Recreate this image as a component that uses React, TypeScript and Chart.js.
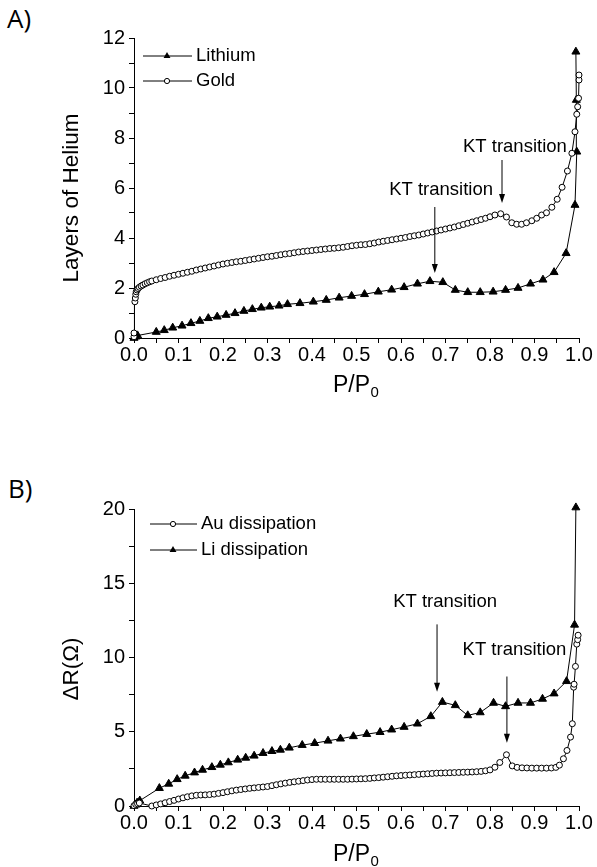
import React, { useEffect, useRef } from "react";
import { Chart, registerables } from "chart.js";
Chart.register(...registerables);

const FONT = "'Liberation Sans', Arial, Helvetica, sans-serif";

// ---------- Panel A data ----------
const lithiumX = [0, 0.004, 0.008, 0.05, 0.068, 0.087, 0.108, 0.128, 0.148, 0.167, 0.187, 0.207, 0.227, 0.247, 0.266, 0.286, 0.305, 0.326, 0.345, 0.373, 0.403, 0.432, 0.461, 0.489, 0.518, 0.549, 0.579, 0.607, 0.637, 0.665, 0.694, 0.722, 0.75, 0.778, 0.807, 0.835, 0.863, 0.891, 0.919, 0.944, 0.971, 0.991, 0.995, 0.994, 0.993];
const lithiumY = [0, 0.05, 0.1, 0.24, 0.31, 0.41, 0.49, 0.59, 0.68, 0.79, 0.85, 0.92, 0.99, 1.08, 1.15, 1.21, 1.25, 1.29, 1.35, 1.39, 1.45, 1.52, 1.61, 1.68, 1.75, 1.85, 1.93, 2.03, 2.17, 2.27, 2.23, 1.92, 1.83, 1.83, 1.85, 1.92, 2.0, 2.17, 2.33, 2.63, 3.39, 5.32, 7.45, 9.52, 11.45];

const goldX = [0, 0, 0.002, 0.003, 0.004, 0.005, 0.007, 0.009, 0.012, 0.016, 0.02, 0.025, 0.03, 0.035, 0.04,
  0.05, 0.06, 0.07, 0.08, 0.09, 0.1, 0.11, 0.12, 0.13, 0.14, 0.15, 0.16, 0.17, 0.18, 0.19, 0.2, 0.21, 0.22, 0.23, 0.24, 0.25, 0.26, 0.27, 0.28, 0.29, 0.3, 0.31, 0.32, 0.33, 0.34, 0.35, 0.36, 0.37, 0.38, 0.39, 0.4, 0.41, 0.42, 0.43, 0.44, 0.45, 0.46, 0.47, 0.48, 0.49, 0.5, 0.51, 0.52, 0.53, 0.54, 0.55, 0.56, 0.57, 0.58, 0.59, 0.6, 0.61, 0.62, 0.63, 0.64, 0.65, 0.66, 0.67, 0.68, 0.69, 0.7, 0.71, 0.72, 0.73, 0.74, 0.75, 0.76, 0.77, 0.78, 0.79, 0.8,
  0.811, 0.824, 0.837, 0.849, 0.86, 0.871, 0.882, 0.894, 0.905, 0.916, 0.927, 0.939, 0.951, 0.962, 0.974, 0.984, 0.991, 0.995, 0.997, 0.999, 1.0, 1.0];
const goldY = [0.05, 0.2, 1.45, 1.6, 1.75, 1.85, 1.92, 1.98, 2.03, 2.08, 2.12, 2.17, 2.21, 2.25, 2.28,
  2.33, 2.38, 2.42, 2.47, 2.51, 2.55, 2.59, 2.63, 2.67, 2.72, 2.76, 2.8, 2.84, 2.88, 2.92, 2.96, 2.99, 3.02, 3.05, 3.07, 3.1, 3.13, 3.16, 3.19, 3.22, 3.25, 3.27, 3.3, 3.33, 3.36, 3.38, 3.41, 3.44, 3.46, 3.48, 3.5, 3.52, 3.54, 3.56, 3.58, 3.59, 3.61, 3.63, 3.66, 3.69, 3.71, 3.73, 3.74, 3.77, 3.8, 3.84, 3.87, 3.9, 3.93, 3.96, 3.99, 4.02, 4.06, 4.09, 4.12, 4.16, 4.2, 4.24, 4.28, 4.32, 4.36, 4.4, 4.44, 4.49, 4.54, 4.59, 4.64, 4.69, 4.74, 4.79, 4.85,
  4.92, 4.97, 4.84, 4.61, 4.55, 4.55, 4.61, 4.69, 4.79, 4.92, 5.01, 5.23, 5.55, 6.03, 6.68, 7.39, 8.25, 8.95, 9.25, 9.59, 10.32, 10.52];

// ---------- Panel B data ----------
const auX = [0, 0.004, 0.008, 0.012,
  0.04, 0.05, 0.06, 0.07, 0.08, 0.09, 0.1, 0.11, 0.12, 0.13, 0.14, 0.15, 0.16, 0.17, 0.18, 0.19, 0.2, 0.21, 0.22, 0.23, 0.24, 0.25, 0.26, 0.27, 0.28, 0.29, 0.3, 0.31, 0.32, 0.33, 0.34, 0.35, 0.36, 0.37, 0.38, 0.39, 0.4, 0.41, 0.42, 0.43, 0.44, 0.45, 0.46, 0.47, 0.48, 0.49, 0.5, 0.51, 0.52, 0.53, 0.54, 0.55, 0.56, 0.57, 0.58, 0.59, 0.6, 0.61, 0.62, 0.63, 0.64, 0.65, 0.66, 0.67, 0.68, 0.69, 0.7, 0.71, 0.72, 0.73, 0.74, 0.75, 0.76, 0.77, 0.78, 0.79, 0.8,
  0.811, 0.822, 0.837, 0.85, 0.861, 0.872, 0.883, 0.894, 0.905, 0.916, 0.927, 0.938, 0.948, 0.956, 0.965, 0.973, 0.981, 0.985, 0.988, 0.989, 0.992, 0.995, 0.997, 0.998];
const auY = [0.02, 0.1, 0.15, 0.2,
  0.0, 0.07, 0.14, 0.22, 0.3, 0.38, 0.47, 0.55, 0.62, 0.68, 0.72, 0.74, 0.75, 0.77, 0.8, 0.85, 0.9, 0.96, 1.02, 1.07, 1.11, 1.15, 1.19, 1.22, 1.25, 1.28, 1.31, 1.37, 1.43, 1.49, 1.54, 1.59, 1.63, 1.67, 1.71, 1.75, 1.78, 1.8, 1.8, 1.8, 1.8, 1.8, 1.8, 1.8, 1.8, 1.81, 1.82, 1.83, 1.84, 1.86, 1.89, 1.91, 1.94, 1.97, 2.0, 2.03, 2.05, 2.07, 2.09, 2.11, 2.13, 2.15, 2.17, 2.19, 2.21, 2.22, 2.23, 2.24, 2.25, 2.26, 2.27, 2.28, 2.29, 2.31, 2.33, 2.37, 2.43,
  2.61, 2.93, 3.45, 2.7, 2.6, 2.57, 2.56, 2.55, 2.55, 2.55, 2.55, 2.56, 2.6, 2.75, 3.18, 3.74, 4.64, 5.54, 8.0, 8.2, 9.4, 10.9, 11.2, 11.5];

const liX = [0, 0.004, 0.007, 0.013, 0.057, 0.078, 0.097, 0.115, 0.136, 0.154, 0.175, 0.194, 0.212, 0.233, 0.251, 0.27, 0.29, 0.31, 0.329, 0.349, 0.378, 0.406, 0.436, 0.464, 0.493, 0.523, 0.553, 0.579, 0.607, 0.637, 0.667, 0.693, 0.722, 0.75, 0.778, 0.808, 0.835, 0.863, 0.891, 0.918, 0.944, 0.972, 0.99, 0.993];
const liY = [0, 0.08, 0.22, 0.36, 1.2, 1.49, 1.8, 2.03, 2.25, 2.43, 2.61, 2.77, 2.93, 3.11, 3.24, 3.38, 3.56, 3.69, 3.78, 3.92, 4.1, 4.23, 4.39, 4.53, 4.69, 4.84, 4.97, 5.14, 5.32, 5.54, 6.04, 7.0, 6.78, 6.1, 6.3, 6.94, 6.71, 6.94, 6.94, 7.21, 7.57, 8.4, 12.2, 20.1];

// Annotations: arrow x, arrow from/to (y), label x, label y
const topArrowX = [0.676, 0.827];
const topArrowFrom = [5.24, 7.12];
const topArrowTo = [2.6, 5.4];
const topLabelX = [0.69, 0.856];
const topLabelY = [5.92, 7.64];

const botArrowX = [0.681, 0.838];
const botArrowFrom = [12.23, 8.72];
const botArrowTo = [7.7, 4.26];
const botLabelX = [0.699, 0.855];
const botLabelY = [13.72, 10.54];

const KT_LABEL = "KT transition";

const zip = (xs: number[], ys: number[]) => xs.map((x, i) => ({ x, y: ys[i] }));

function drawMarker(ctx: CanvasRenderingContext2D, style: string, x: number, y: number, r: number) {
  ctx.beginPath();
  if (style === "triangle") {
    ctx.moveTo(x, y - r);
    ctx.lineTo(x + 0.866 * r, y + 0.5 * r);
    ctx.lineTo(x - 0.866 * r, y + 0.5 * r);
    ctx.closePath();
    ctx.fillStyle = "#000";
    ctx.fill();
  } else {
    ctx.arc(x, y, r, 0, Math.PI * 2);
    ctx.fillStyle = "#fff";
    ctx.fill();
    ctx.strokeStyle = "#000";
    ctx.lineWidth = 1;
    ctx.stroke();
  }
}

type Overlay = {
  legend: { x1: number; x2: number; xm: number; xt: number; ys: number[]; labels: string[]; styles: string[] };
  arrows: { ax: number[]; from: number[]; to: number[]; lx: number[]; ly: number[] };
  yTitle: { text: string; x: number; y: number };
  xTitle: { x: number; y: number };
};

function makeOverlay(o: Overlay) {
  return {
    id: "overlay",
    afterDatasetsDraw(chart: any) {
      const ctx: CanvasRenderingContext2D = chart.ctx;
      const xs = chart.scales.x;
      const ys = chart.scales.y;
      ctx.save();
      // legend
      const L = o.legend;
      L.labels.forEach((lab, i) => {
        const y = L.ys[i];
        ctx.beginPath();
        ctx.moveTo(L.x1, y);
        ctx.lineTo(L.x2, y);
        ctx.strokeStyle = "#000";
        ctx.lineWidth = 1;
        ctx.stroke();
        drawMarker(ctx, L.styles[i], L.xm, y, L.styles[i] === "triangle" ? 4 : 2.6);
        ctx.fillStyle = "#000";
        ctx.font = `18.5px ${FONT}`;
        ctx.textAlign = "left";
        ctx.textBaseline = "middle";
        ctx.fillText(lab, L.xt, y);
      });
      // arrows
      const A = o.arrows;
      A.ax.forEach((ax, i) => {
        const px = xs.getPixelForValue(ax);
        const y1 = ys.getPixelForValue(A.from[i]);
        const y2 = ys.getPixelForValue(A.to[i]);
        const head = 9;
        ctx.beginPath();
        ctx.moveTo(px, y1);
        ctx.lineTo(px, y2 - head + 1);
        ctx.strokeStyle = "#000";
        ctx.lineWidth = 1;
        ctx.stroke();
        ctx.beginPath();
        ctx.moveTo(px, y2);
        ctx.lineTo(px - 3, y2 - head);
        ctx.lineTo(px + 3, y2 - head);
        ctx.closePath();
        ctx.fillStyle = "#000";
        ctx.fill();
        ctx.font = `18.5px ${FONT}`;
        ctx.textAlign = "center";
        ctx.textBaseline = "middle";
        ctx.fillText(KT_LABEL, xs.getPixelForValue(A.lx[i]), ys.getPixelForValue(A.ly[i]));
      });
      // y title
      ctx.save();
      ctx.translate(o.yTitle.x, o.yTitle.y);
      ctx.rotate(-Math.PI / 2);
      ctx.font = `22.5px ${FONT}`;
      ctx.textAlign = "center";
      ctx.textBaseline = "middle";
      ctx.fillStyle = "#000";
      ctx.fillText(o.yTitle.text, 0, 0);
      ctx.restore();
      // x title with subscript
      ctx.font = `23px ${FONT}`;
      ctx.textAlign = "left";
      ctx.textBaseline = "alphabetic";
      ctx.fillStyle = "#000";
      const main = "P/P";
      ctx.fillText(main, o.xTitle.x, o.xTitle.y);
      const w = ctx.measureText(main).width;
      ctx.font = `15px ${FONT}`;
      ctx.fillText("0", o.xTitle.x + w + 0.5, o.xTitle.y + 5);
      ctx.restore();
    },
  };
}

function axisCommon() {
  return {
    grid: { display: true, drawOnChartArea: false, drawTicks: true, tickLength: 5, tickColor: "#000", color: "#000", lineWidth: 1 },
    border: { display: true, color: "#000", width: 1 },
  };
}

function makeConfig(opts: {
  datasets: any[];
  yMax: number;
  yStep: number;
  yMajor: number;
  padTop: number;
  padBottom: number;
  overlay: Overlay;
}) {
  return {
    type: "line",
    data: { datasets: opts.datasets },
    options: {
      animation: false,
      responsive: false,
      devicePixelRatio: 1,
      layout: { padding: { top: opts.padTop, left: 0, right: 18, bottom: opts.padBottom } },
      plugins: { legend: { display: false }, tooltip: { enabled: false } },
      scales: {
        x: {
          type: "linear",
          min: 0,
          max: 1,
          ...axisCommon(),
          ticks: {
            stepSize: 0.05,
            autoSkip: false,
            maxRotation: 0,
            minRotation: 0,
            padding: 0,
            color: "#000",
            font: { family: FONT, size: 20 },
            callback: (v: number) => (Math.round(v * 100) % 10 === 0 ? v.toFixed(1) : ""),
          },
          afterFit: (s: any) => {
            s.height = 40;
          },
        },
        y: {
          type: "linear",
          min: 0,
          max: opts.yMax,
          ...axisCommon(),
          ticks: {
            stepSize: opts.yStep,
            autoSkip: false,
            padding: 4,
            color: "#000",
            font: { family: FONT, size: 20 },
            callback: (v: number) => (Math.abs(v / opts.yMajor - Math.round(v / opts.yMajor)) < 1e-6 ? String(v) : ""),
          },
          afterFit: (s: any) => {
            s.width = 134;
          },
        },
      },
    },
    plugins: [makeOverlay(opts.overlay)],
  };
}

function triSet(label: string, xs: number[], ys: number[]) {
  return {
    label,
    data: zip(xs, ys),
    borderColor: "#000",
    borderWidth: 1,
    tension: 0,
    pointStyle: "triangle",
    pointRadius: 4.6,
    pointBackgroundColor: "#000",
    pointBorderColor: "#000",
    pointBorderWidth: 1,
    clip: false,
  };
}
function circSet(label: string, xs: number[], ys: number[]) {
  return {
    label,
    data: zip(xs, ys),
    borderColor: "#000",
    borderWidth: 1,
    tension: 0,
    pointStyle: "circle",
    pointRadius: 3,
    pointBackgroundColor: "#fff",
    pointBorderColor: "#000",
    pointBorderWidth: 1,
    clip: false,
  };
}

function Panel({ config, top, height }: { config: any; top: number; height: number }) {
  const ref = useRef<HTMLCanvasElement>(null);
  useEffect(() => {
    if (!ref.current) return;
    const chart = new Chart(ref.current, config);
    return () => chart.destroy();
  }, []);
  return (
    <canvas
      ref={ref}
      width={597}
      height={height}
      style={{ position: "absolute", left: 0, top, width: 597, height, display: "block" }}
    />
  );
}

export default function App() {
  const topConfig = makeConfig({
    datasets: [circSet("Gold", goldX, goldY), triSet("Lithium", lithiumX, lithiumY)],
    yMax: 12,
    yStep: 1,
    yMajor: 2,
    padTop: 38,
    padBottom: 430 - 338 - 40,
    overlay: {
      legend: { x1: 143, x2: 192, xm: 167, xt: 196, ys: [56, 81], labels: ["Lithium", "Gold"], styles: ["triangle", "circle"] },
      arrows: { ax: topArrowX, from: topArrowFrom, to: topArrowTo, lx: topLabelX, ly: topLabelY },
      yTitle: { text: "Layers of Helium", x: 72, y: 198 },
      xTitle: { x: 333, y: 392 },
    },
  });
  const botConfig = makeConfig({
    datasets: [circSet("Au dissipation", auX, auY), triSet("Li dissipation", liX, liY)],
    yMax: 20,
    yStep: 2.5,
    yMajor: 5,
    padTop: 509 - 440,
    padBottom: 427 - (806 - 440) - 40,
    overlay: {
      legend: { x1: 150, x2: 197, xm: 173, xt: 201, ys: [524 - 440, 550 - 440], labels: ["Au dissipation", "Li dissipation"], styles: ["circle", "triangle"] },
      arrows: { ax: botArrowX, from: botArrowFrom, to: botArrowTo, lx: botLabelX, ly: botLabelY },
      yTitle: { text: "ΔR(Ω)", x: 72, y: 669 - 440 },
      xTitle: { x: 333, y: 861 - 440 },
    },
  });
  return (
    <div style={{ position: "absolute", left: 0, top: 0, width: 597, height: 867, background: "#fff", overflow: "hidden" }}>
      <div style={{ position: "absolute", left: 7, top: 5, fontFamily: "'Open Sans', sans-serif", fontSize: 26, lineHeight: "26px", color: "#000" }}>A)</div>
      <div style={{ position: "absolute", left: 8, top: 475, fontFamily: "'Open Sans', sans-serif", fontSize: 26, lineHeight: "26px", color: "#000" }}>B)</div>
      <Panel config={topConfig} top={0} height={430} />
      <Panel config={botConfig} top={440} height={427} />
    </div>
  );
}
